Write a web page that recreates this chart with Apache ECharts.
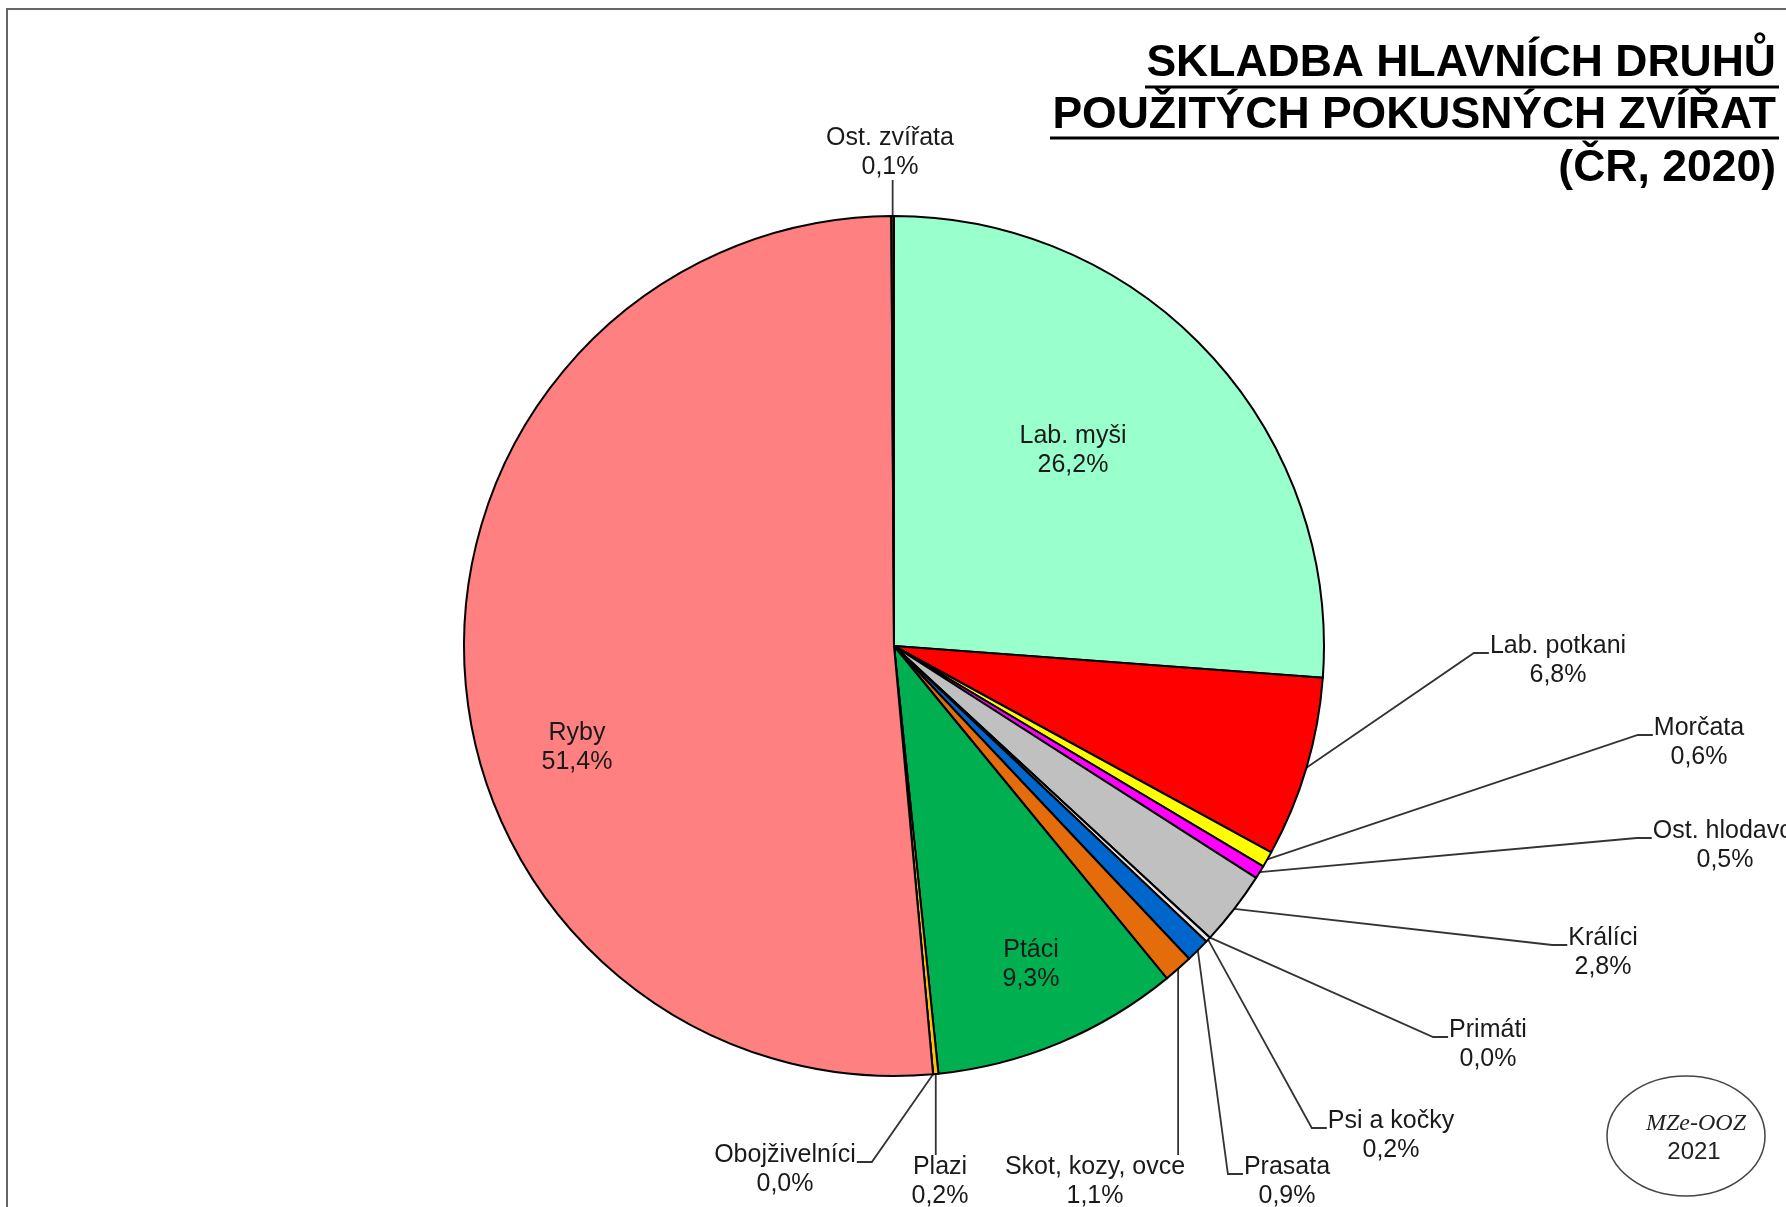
<!DOCTYPE html>
<html>
<head>
<meta charset="UTF-8">
<title>Skladba hlavních druhů použitých pokusných zvířat</title>
<script src="https://cdn.jsdelivr.net/npm/echarts@6/dist/echarts.min.js"></script>
<style>html,body{margin:0;padding:0;background:#fff;}</style>
</head>
<body>
<div id="main" style="width:1786px;height:1207px;"></div>
<script type="text/javascript">
// data, clockwise from 12 o'clock
var names = ['Lab. myši', 'Lab. potkani', 'Morčata', 'Ost. hlodavci', 'Králíci', 'Primáti',
    'Psi a kočky', 'Prasata', 'Skot, kozy, ovce', 'Ptáci', 'Plazi', 'Obojživelníci', 'Ryby', 'Ost. zvířata'];
var values = [26.2, 6.8, 0.6, 0.5, 2.8, 0.0, 0.2, 0.9, 1.1, 9.3, 0.2, 0.0, 51.4, 0.1];
var colors = ['#99FFCC', '#FF0000', '#FFFF00', '#FF00FF', '#C0C0C0', '#000080',
    '#E8E8E8', '#0066CC', '#E46C0A', '#00B050', '#FFC000', '#996633', '#FF8080', '#663300'];

// label placement: [x, y, kind]  kind: in = inside, r = stub left of text, l = stub right of text,
// d = vertical line down to text, u = vertical line up to text
var labelPos = [
    [1073, 451, 'in'], [1558, 661, 'r'], [1699, 743, 'r'], [1725, 846, 'r'], [1603, 953, 'r'],
    [1488, 1045, 'r'], [1391, 1136, 'r'], [1287, 1182, 'r'], [1095, 1182, 'd'], [1031, 965, 'in'],
    [940, 1182, 'd'], [785, 1170, 'l'], [577, 748, 'in'], [890, 153, 'u']
];

var myChart = echarts.init(document.getElementById('main'));

var pieData = [];
for (var i = 0; i < names.length; i++) {
    var item = { name: names[i], value: values[i], itemStyle: { color: colors[i] } };
    if (labelPos[i][2] === 'in') {
        item.label = { position: 'inside' };
        item.labelLine = { show: false };
    }
    pieData.push(item);
}

function fmt(p) {
    return p.name + '\n' + p.value.toFixed(1).replace('.', ',') + '%';
}

var option = {
    backgroundColor: '#fff',
    animation: false,
    graphic: [
        { type: 'rect', silent: true, shape: { x: 7, y: 9, width: 1800, height: 1300 },
          style: { fill: 'none', stroke: '#666', lineWidth: 2 } },
        { type: 'text', x: 1776, y: 64, style: { text: 'SKLADBA HLAVNÍCH DRUHŮ', fill: '#000',
          font: 'bold 44.5px "Liberation Sans", Arial, sans-serif', align: 'right', verticalAlign: 'middle' } },
        { type: 'text', x: 1776, y: 116, style: { text: 'POUŽITÝCH POKUSNÝCH ZVÍŘAT', fill: '#000',
          font: 'bold 44.5px "Liberation Sans", Arial, sans-serif', align: 'right', verticalAlign: 'middle' } },
        { type: 'text', x: 1776, y: 169, style: { text: '(ČR, 2020)', fill: '#000',
          font: 'bold 44.5px "Liberation Sans", Arial, sans-serif', align: 'right', verticalAlign: 'middle' } },
        { type: 'line', shape: { x1: 1145, y1: 87, x2: 1779, y2: 87 }, style: { stroke: '#000', lineWidth: 3 } },
        { type: 'line', shape: { x1: 1050, y1: 138, x2: 1779, y2: 138 }, style: { stroke: '#000', lineWidth: 3 } },
        { type: 'ellipse', shape: { cx: 1686, cy: 1136, rx: 79, ry: 60 },
          style: { fill: '#fff', stroke: '#444', lineWidth: 1.5 } },
        { type: 'text', x: 1696, y: 1124, style: { text: 'MZe-OOZ', fill: '#222',
          font: 'italic 24px "Liberation Serif", "Times New Roman", serif', align: 'center', verticalAlign: 'middle' } },
        { type: 'text', x: 1694, y: 1152, style: { text: '2021', fill: '#222',
          font: '24px "Liberation Sans", Arial, sans-serif', align: 'center', verticalAlign: 'middle' } }
    ],
    series: [{
        type: 'pie',
        center: [894, 646],
        radius: 430,
        startAngle: 90,
        clockwise: true,
        avoidLabelOverlap: false,
        emphasis: { disabled: true },
        itemStyle: { borderColor: '#000', borderWidth: 2 },
        label: {
            show: true,
            position: 'outside',
            formatter: fmt,
            color: '#1a1a1a',
            fontFamily: '"Liberation Sans", Arial, sans-serif',
            fontSize: 25,
            lineHeight: 29,
            align: 'center'
        },
        labelLine: {
            show: true,
            length: 20,
            length2: 15,
            lineStyle: { color: '#333', width: 1.8 }
        },
        labelLayout: function (params) {
            var p = labelPos[params.dataIndex];
            var out = { x: p[0], y: p[1], align: 'center', verticalAlign: 'middle' };
            var pts = params.labelLinePoints;
            if (p[2] === 'in' || !pts) {
                return out;
            }
            var a = pts[0];
            var w = params.labelRect.width, h = params.labelRect.height;
            var ey = p[1] - 8;
            if (p[2] === 'r') {
                var ex = p[0] - w / 2 - 1;
                out.labelLinePoints = [a, [ex - 15, ey], [ex, ey]];
            } else if (p[2] === 'l') {
                var ex2 = p[0] + w / 2 + 1;
                out.labelLinePoints = [a, [ex2 + 15, ey], [ex2, ey]];
            } else if (p[2] === 'd') {
                var top = p[1] - h / 2 + 2;
                out.labelLinePoints = [a, [a[0], (a[1] + top) / 2], [a[0], top]];
            } else if (p[2] === 'u') {
                var bot = p[1] + h / 2 - 2;
                out.labelLinePoints = [a, [a[0], (a[1] + bot) / 2], [a[0], bot]];
            }
            return out;
        },
        data: pieData
    }]
};

myChart.setOption(option);
</script>
</body>
</html>
